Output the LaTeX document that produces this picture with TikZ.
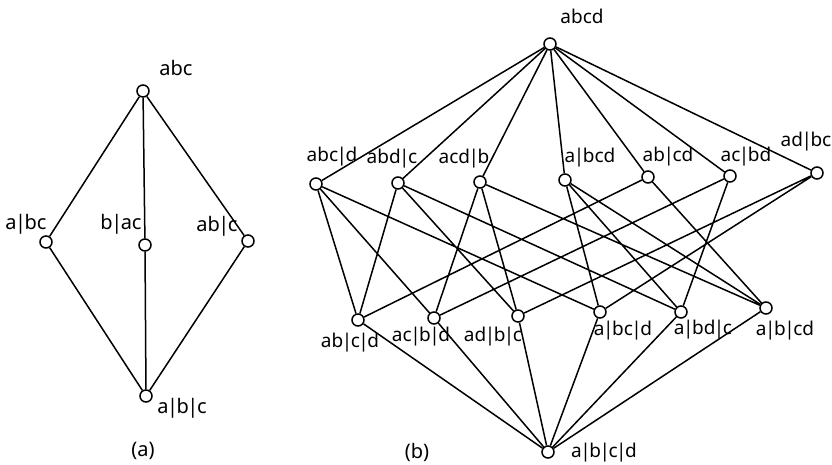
\documentclass[tikz,border=0pt]{standalone}
\usepackage{fontspec}
\setmainfont{Noto Sans}
\newcommand{\pb}{\kern-1.5pt|\kern-1.5pt}
\begin{document}
\begin{tikzpicture}[x=1pt,y=-1pt,
  vtx/.style={circle,draw,line width=1.5pt,fill=white,minimum size=12pt,inner sep=0pt},
  lbl/.style={inner sep=0pt,font=\fontsize{19}{19}\selectfont},
  lbla/.style={inner sep=0pt,font=\fontsize{20}{20}\selectfont},
  edge/.style={line width=1.5pt}]
\useasboundingbox (0,0) rectangle (832,465);
% (a)
\node[vtx] (A1) at (143,91) {};
\node[vtx] (A21) at (46,242) {};
\node[vtx] (A22) at (145,245) {};
\node[vtx] (A23) at (248,241) {};
\node[vtx] (A3) at (146,396) {};
\draw[edge] (A1)--(A21) (A1)--(A22) (A1)--(A23) (A3)--(A21) (A3)--(A22) (A3)--(A23);
\node[lbla] (LA1) at (176,68) {abc};
\node[lbla] (LA21) at (26,224) {a\pb bc};
\node[lbla] (LA22) at (121,224) {b\pb ac};
\node[lbla] (LA23) at (217,226) {ab\pb c};
\node[lbla] (LA3) at (182,408) {a\pb b\pb c};
\node[lbla] (CA) at (143,451) {(a)};
% (b)
\node[vtx] (T) at (550,44) {};
\node[vtx] (P1) at (316,184) {};
\node[vtx] (P2) at (398,183) {};
\node[vtx] (P3) at (480,182) {};
\node[vtx] (P4) at (565,180) {};
\node[vtx] (P5) at (648,177) {};
\node[vtx] (P6) at (730,176) {};
\node[vtx] (P7) at (817,173) {};
\node[vtx] (Q1) at (358,320) {};
\node[vtx] (Q2) at (434,318) {};
\node[vtx] (Q3) at (518,316) {};
\node[vtx] (Q4) at (600,312) {};
\node[vtx] (Q5) at (681,312) {};
\node[vtx] (Q6) at (766,308) {};
\node[vtx] (B) at (548,452) {};
\foreach \p in {P1,P2,P3,P4,P5,P6,P7} \draw[edge] (T)--(\p);
\foreach \q in {Q1,Q2,Q3,Q4,Q5,Q6} \draw[edge] (B)--(\q);
\draw[edge] (P1)--(Q1) (P1)--(Q2) (P1)--(Q4)
  (P2)--(Q1) (P2)--(Q3) (P2)--(Q5)
  (P3)--(Q2) (P3)--(Q3) (P3)--(Q6)
  (P4)--(Q4) (P4)--(Q5) (P4)--(Q6)
  (P5)--(Q1) (P5)--(Q6)
  (P6)--(Q2) (P6)--(Q5)
  (P7)--(Q3) (P7)--(Q4);
\node[lbl] (LT) at (582,16) {abcd};
\node[lbl] (L1) at (332,157) {abc\pb d};
\node[lbl] (L2) at (392,159) {abd\pb c};
\node[lbl] (L3) at (464,159) {acd\pb b};
\node[lbl] (L4) at (590,158) {a\pb bcd};
\node[lbl] (L5) at (668,157) {ab\pb cd};
\node[lbl] (L6) at (746,157) {ac\pb bd};
\node[lbl] (L7) at (806,142) {ad\pb bc};
\node[lbl] (M1) at (350,343) {ab\pb c\pb d};
\node[lbl] (M2) at (421,337) {ac\pb b\pb d};
\node[lbl] (M3) at (493,337) {ad\pb b\pb c};
\node[lbl] (M4) at (623,331) {a\pb bc\pb d};
\node[lbl] (M5) at (703,330) {a\pb bd\pb c};
\node[lbl] (M6) at (785,331) {a\pb b\pb cd};
\node[lbl] (LB) at (604,453) {a\pb b\pb c\pb d};
\node[lbla] (CB) at (417,452) {(b)};
\end{tikzpicture}
\end{document}
